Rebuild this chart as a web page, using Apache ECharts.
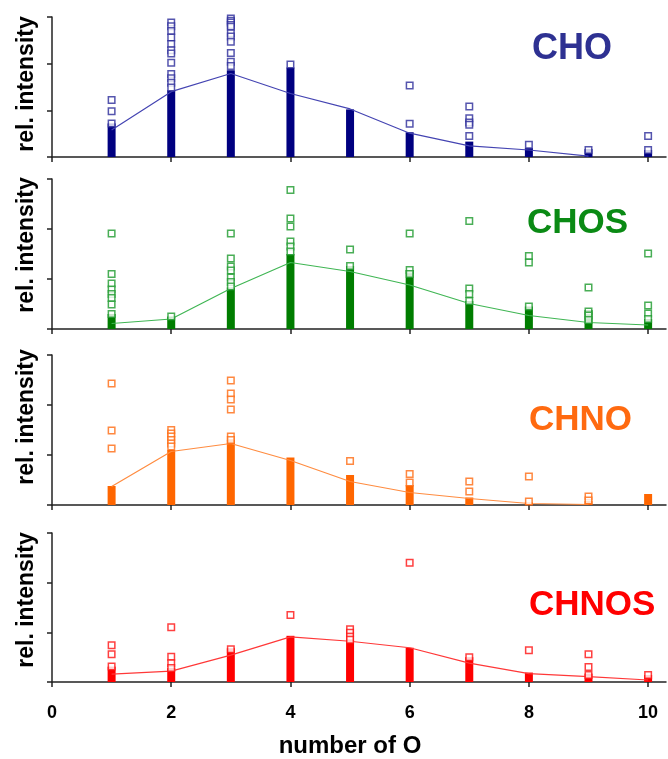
<!DOCTYPE html>
<html>
<head>
<meta charset="utf-8">
<script src="https://cdn.jsdelivr.net/npm/echarts@6/dist/echarts.min.js"></script>
<style>html,body{margin:0;padding:0;background:#fff}#c{width:668px;height:759px}</style>
</head>
<body>
<div id="c"></div>
<script>
// ---- data (values in y-tick units: each panel axis runs 0..3) ----
const xValues = [1, 2, 3, 4, 5, 6, 7, 8, 9, 10];
const xTickValues = [0, 2, 4, 6, 8, 10];
const panelNames = ['CHO', 'CHOS', 'CHNO', 'CHNOS'];
const yAxisTitle = 'rel. intensity';
const xAxisTitle = 'number of O';

const choMean = [0.58, 1.40, 1.79, 1.36, 1.03, 0.51, 0.24, 0.15, 0.02, null];
const choColumn = [0.72, 1.43, 1.86, 1.92, 1.02, 0.53, 0.33, 0.19, 0.17, 0.15];
const choPoints = [[1,1.22],[1,0.98],[1,0.72],
  [2,2.88],[2,2.80],[2,2.70],[2,2.56],[2,2.42],[2,2.29],[2,2.22],[2,2.02],[2,1.78],[2,1.69],[2,1.59],[2,1.49],
  [3,2.97],[3,2.92],[3,2.88],[3,2.83],[3,2.79],[3,2.65],[3,2.58],[3,2.47],[3,2.23],[3,2.04],[3,1.95],
  [4,1.98],[6,1.53],[6,0.71],[7,1.08],[7,0.83],[7,0.74],[7,0.69],[7,0.45],[8,0.26],[9,0.15],[10,0.45],[10,0.15]];

const chosMean = [0.11, 0.20, 0.81, 1.33, 1.15, 0.88, 0.51, 0.27, 0.13, 0.08];
const chosColumn = [0.30, 0.25, 0.83, 1.50, 1.26, 1.18, 0.56, 0.45, 0.38, 0.20];
const chosPoints = [[1,1.91],[1,1.10],[1,0.91],[1,0.79],[1,0.70],[1,0.62],[1,0.49],[1,0.30],[2,0.25],
  [3,1.91],[3,1.41],[3,1.25],[3,1.17],[3,1.03],[3,0.94],[3,0.85],
  [4,2.78],[4,2.21],[4,2.05],[4,1.75],[4,1.65],[4,1.55],[5,1.59],[5,1.26],[6,1.91],[6,1.18],[6,1.10],
  [7,2.16],[7,0.81],[7,0.70],[7,0.56],[8,1.46],[8,1.33],[8,0.45],[9,0.83],[9,0.35],[9,0.27],[9,0.18],
  [10,1.51],[10,0.47],[10,0.31],[10,0.20]];

const chnoMean = [0.37, 1.07, 1.23, 0.89, 0.47, 0.25, 0.13, 0.03, 0.01, null];
const chnoColumn = [0.38, 1.10, 1.30, 0.95, 0.60, 0.40, 0.15, 0.05, 0.08, 0.22];
const chnoPoints = [[1,2.43],[1,1.49],[1,1.13],[2,1.50],[2,1.43],[2,1.37],[2,1.30],[2,1.23],[2,1.17],
  [3,2.49],[3,2.23],[3,2.11],[3,1.91],[3,1.37],[3,1.30],[5,0.88],[6,0.62],[6,0.45],[7,0.47],[7,0.27],
  [8,0.57],[8,0.07],[9,0.17],[9,0.09]];

const chnosMean = [0.16, 0.22, 0.54, 0.91, 0.82, 0.69, 0.38, 0.17, 0.11, 0.04];
const chnosColumn = [0.31, 0.28, 0.68, 0.93, 0.85, 0.69, 0.50, 0.19, 0.17, 0.14];
const chnosPoints = [[1,0.74],[1,0.56],[1,0.31],[2,1.10],[2,0.51],[2,0.38],[2,0.28],[3,0.66],[4,1.35],
  [5,1.06],[5,0.99],[5,0.91],[5,0.85],[6,2.40],[7,0.50],[8,0.64],[9,0.56],[9,0.30],[9,0.14],[10,0.14]];

// ---- styling ----
const FONT = '"Liberation Sans", Arial, Helvetica, sans-serif';
const styles = [
  {col:'#000080', pt:'#2a2a9a', line:'#4444b2', title:'#2e3192'},
  {col:'#007d00', pt:'#1c9a2c', line:'#40b654', title:'#0a8a14'},
  {col:'#ff6600', pt:'#ff6a10', line:'#ff8c40', title:'#ff6a10'},
  {col:'#ff0000', pt:'#ff1010', line:'#ff3838', title:'#ff0000'}
];
const grids = [
  {left:52, top:17, width:614, height:140},
  {left:52, top:179, width:614, height:150},
  {left:52, top:355, width:614, height:150},
  {left:52, top:533, width:614, height:149}
];
const means = [choMean, chosMean, chnoMean, chnosMean];
const columns = [choColumn, chosColumn, chnoColumn, chnosColumn];
const points = [choPoints, chosPoints, chnoPoints, chnosPoints];
const yLabelCenters = [84, 245, 417, 600];
const titlePos = [[532, 49, 36], [527, 223, 35], [529, 420, 35], [529, 605, 35]];

const axisLineStyle = {color:'#222', width:1.5};
const xAxes = grids.map((g, i) => ({
  type:'value', gridIndex:i, min:0, max:10.3,
  axisLine:{show:true, onZero:false, lineStyle:axisLineStyle},
  axisTick:{show:true, customValues:xTickValues, length:5, lineStyle:axisLineStyle},
  axisLabel:{show:i === 3, customValues:xTickValues, fontSize:18, fontWeight:'bold', color:'#000', fontFamily:FONT, margin:22},
  splitLine:{show:false},
  name: i === 3 ? xAxisTitle : '',
  nameLocation:'middle', nameGap:52,
  nameTextStyle:{fontSize:24, fontWeight:'bold', color:'#000', fontFamily:FONT, padding:[0,18,0,0]}
}));
const yAxes = grids.map((g, i) => ({
  type:'value', gridIndex:i, min:0, max:3, interval:1,
  axisLine:{show:true, lineStyle:axisLineStyle},
  axisTick:{show:true, length:5, lineStyle:axisLineStyle},
  axisLabel:{show:false}, splitLine:{show:false}
}));

const series = [];
for (let i = 0; i < 4; i++) {
  series.push({
    type:'bar', xAxisIndex:i, yAxisIndex:i, barWidth:8, z:2,
    data: columns[i].map((v, k) => [xValues[k], v]),
    itemStyle:{color:styles[i].col}
  });
  series.push({
    type:'line', xAxisIndex:i, yAxisIndex:i, symbol:'none', z:3,
    data: means[i].map((v, k) => [xValues[k], v]),
    lineStyle:{color:styles[i].line, width:1.2}
  });
  series.push({
    type:'scatter', xAxisIndex:i, yAxisIndex:i, symbol:'rect', symbolSize:6.5, z:4,
    data: points[i],
    itemStyle:{color:'#fff', borderColor:styles[i].pt, borderWidth:1.5}
  });
}

const graphic = [];
for (let i = 0; i < 4; i++) {
  graphic.push({
    type:'text', x:27, y:yLabelCenters[i], rotation:Math.PI/2,
    style:{text:yAxisTitle, font:'bold 23px ' + FONT, fill:'#000', align:'center', verticalAlign:'middle'}
  });
  graphic.push({
    type:'text', x:titlePos[i][0], y:titlePos[i][1],
    style:{text:panelNames[i], font:'bold ' + titlePos[i][2] + 'px ' + FONT, fill:styles[i].title, align:'left', verticalAlign:'middle'}
  });
}

const chart = echarts.init(document.getElementById('c'), null, {renderer:'canvas'});
chart.setOption({
  animation:false,
  backgroundColor:'#fff',
  grid:grids,
  xAxis:xAxes,
  yAxis:yAxes,
  series:series,
  graphic:graphic
});
</script>
</body>
</html>
